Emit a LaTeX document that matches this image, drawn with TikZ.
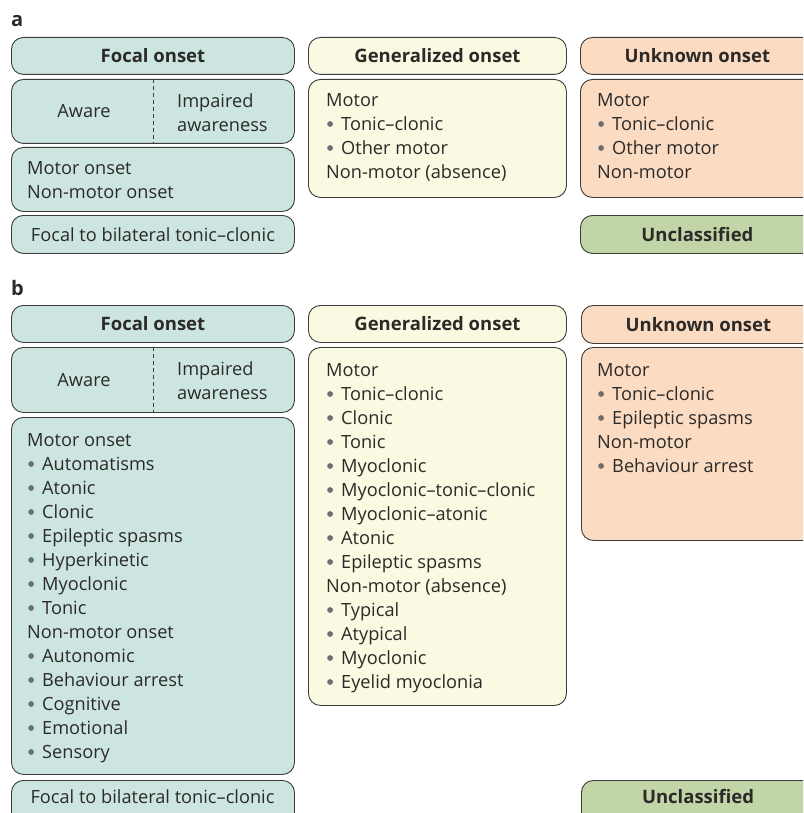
\documentclass[tikz,border=0pt]{standalone}
\usepackage{fontspec}
\setmainfont{Open Sans}
\definecolor{bordc}{HTML}{3C3C3B}
\definecolor{txtc}{HTML}{2B2A29}
\definecolor{bulc}{HTML}{6D6E70}
\definecolor{tealc}{HTML}{CDE5E0}
\definecolor{yelc}{HTML}{FAF9E1}
\definecolor{peachc}{HTML}{FBDCC2}
\definecolor{greenc}{HTML}{C2D5A7}
\newcommand\bul{\makebox[15pt][l]{\hspace{1pt}\tikz[baseline=0pt,x=1pt,y=1pt]{\fill[bulc] (3,6.6) circle (2.9);}}}
\begin{document}
\begin{tikzpicture}[x=1pt,y=-1pt,
  box/.style={draw=bordc, line width=0.9pt, rounded corners=12pt, anchor=north west, inner sep=0pt, text=txtc},
  headbox/.style={box, minimum height=37pt, font=\fontsize{18.5}{24}\selectfont\bfseries},
  linebox/.style={box, minimum height=38pt, font=\fontsize{18.2}{24}\selectfont},
  body/.style={anchor=north west, align=left, inner sep=0pt, text=txtc, font=\fontsize{18.2}{24}\selectfont},
  ctext/.style={inner sep=0pt, text=txtc, font=\fontsize{18.2}{24}\selectfont},
  panel/.style={anchor=base west, inner sep=0pt, text=txtc, font=\fontsize{20}{24}\selectfont\bfseries},
  sep/.style={draw=bordc, line width=0.9pt, dash pattern=on 4pt off 3pt}]
\useasboundingbox (0,0) rectangle (803,813);
\clip (0,0) rectangle (803,813);

% ---------- panel a ----------
\node[panel] (la) at (11,27) {a};
\node[headbox, fill=tealc, minimum width=283pt] (fhA) at (11,37) {Focal onset};
\node[box, fill=tealc, minimum width=283pt, minimum height=64pt] (awA) at (11,79) {};
\draw[sep] (awA.north) -- (awA.south);
\node[ctext] (awAl) at (84,111) {Aware};
\node[body] (awAr) at (177,93.4) {Impaired\\awareness};
\node[box, fill=tealc, minimum width=283pt, minimum height=64pt] (moA) at (11,147) {};
\node[body] (moAt) at (27,161.4) {Motor onset\\Non-motor onset};
\node[linebox, fill=tealc, minimum width=283pt] (fbA) at (11,215) {Focal to bilateral tonic--clonic};

\node[headbox, fill=yelc, minimum width=258pt] (ghA) at (308,37) {Generalized onset};
\node[box, fill=yelc, minimum width=258pt, minimum height=118pt] (gbA) at (308,79) {};
\node[body] (gbAt) at (326,93.4) {Motor\\\bul Tonic--clonic\\\bul Other motor\\Non-motor (absence)};

\node[headbox, fill=peachc, minimum width=234pt] (uhA) at (580,37) {Unknown onset};
\node[box, fill=peachc, minimum width=234pt, minimum height=118pt] (ubA) at (580,79) {};
\node[body] (ubAt) at (597,93.4) {Motor\\\bul Tonic--clonic\\\bul Other motor\\Non-motor};
\node[headbox, fill=greenc, minimum width=234pt, minimum height=38pt] (ucA) at (580,215) {Unclassified};

% ---------- panel b ----------
\node[panel] (lb) at (11,295) {b};
\node[headbox, fill=tealc, minimum width=283pt] (fhB) at (11,305) {Focal onset};
\node[box, fill=tealc, minimum width=283pt, minimum height=65pt] (awB) at (11,347) {};
\draw[sep] (awB.north) -- (awB.south);
\node[ctext] (awBl) at (84,380) {Aware};
\node[body] (awBr) at (177,361.4) {Impaired\\awareness};
\node[box, fill=tealc, minimum width=283pt, minimum height=357pt] (moB) at (11,417) {};
\node[body] (moBt) at (27,433.4) {Motor onset\\\bul Automatisms\\\bul Atonic\\\bul Clonic\\\bul Epileptic spasms\\\bul Hyperkinetic\\\bul Myoclonic\\\bul Tonic\\Non-motor onset\\\bul Autonomic\\\bul Behaviour arrest\\\bul Cognitive\\\bul Emotional\\\bul Sensory};
\node[box, fill=tealc, minimum width=283pt, minimum height=50pt] (fbB) at (11,780) {};
\node[ctext, anchor=base] (fbBt) at (152.5,803.5) {Focal to bilateral tonic--clonic};

\node[headbox, fill=yelc, minimum width=258pt] (ghB) at (308,305) {Generalized onset};
\node[box, fill=yelc, minimum width=258pt, minimum height=358pt] (gbB) at (308,347) {};
\node[body] (gbBt) at (326,363.4) {Motor\\\bul Tonic--clonic\\\bul Clonic\\\bul Tonic\\\bul Myoclonic\\\bul Myoclonic--tonic--clonic\\\bul Myoclonic--atonic\\\bul Atonic\\\bul Epileptic spasms\\Non-motor (absence)\\\bul Typical\\\bul Atypical\\\bul Myoclonic\\\bul Eyelid myoclonia};

\node[headbox, fill=peachc, minimum width=234pt, minimum height=38pt] (uhB) at (581,305) {Unknown onset};
\node[box, fill=peachc, minimum width=234pt, minimum height=193pt] (ubB) at (581,347) {};
\node[body] (ubBt) at (597,363.4) {Motor\\\bul Tonic--clonic\\\bul Epileptic spasms\\Non-motor\\\bul Behaviour arrest};
\node[box, fill=greenc, minimum width=234pt, minimum height=50pt] (ucB) at (581,780) {};
\node[ctext, anchor=base, font=\fontsize{18.5}{24}\selectfont\bfseries] (ucBt) at (698,803.5) {Unclassified};
\end{tikzpicture}
\end{document}
